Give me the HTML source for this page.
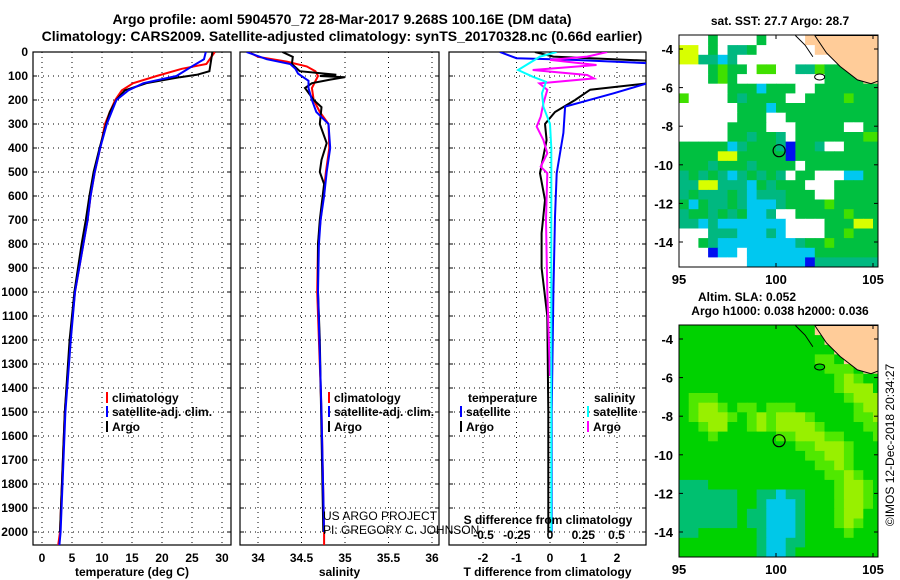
<!DOCTYPE html>
<html><head><meta charset="utf-8"><style>
body{margin:0;background:#fff}
svg{display:block;font-family:"Liberation Sans",sans-serif}
.t{font-weight:bold;font-size:12px}
</style></head><body>
<svg id="c" width="900" height="580" viewBox="0 0 900 580">
<text x="342" y="24" text-anchor="middle" font-size="14" font-weight="bold">Argo profile: aoml 5904570_72 28-Mar-2017 9.268S 100.16E (DM data)</text>
<text x="342" y="41" text-anchor="middle" font-size="14" font-weight="bold">Climatology: CARS2009. Satellite-adjusted climatology: synTS_20170328.nc (0.66d earlier)</text>
</svg>
<script>
// ---- data ----
const tDepthClim=[0,50,70,100,130,160,200,250,300,400,500,600,700,800,1000,1200,1500,2000,2055];
const tClim=[28.8,27.4,23.3,19.1,15.2,13.3,12.2,11.3,10.5,9.7,8.8,8.1,7.6,6.9,5.5,4.7,3.8,3.0,2.7];
const tDepthSat=[0,30,60,100,130,160,200,250,300,400,500,600,700,800,1000,1200,1500,2000,2055];
const tSat=[27.3,27.0,25.0,22.4,16.9,14.4,12.4,11.6,10.8,9.7,8.8,8.1,7.6,6.9,5.5,4.8,3.9,3.1,2.9];
const tDepthArgo=[0,80,95,105,130,160,200,250,300,400,500,600,700,800,1000,1200,1500,2000];
const tArgo=[28.4,27.9,25.8,23.0,17.4,13.8,12.4,11.3,10.7,9.6,8.6,7.9,7.3,6.6,5.4,4.6,3.8,3.0];
const sDepthClim=[0,20,40,60,80,100,150,200,250,300,400,500,600,700,800,1000,1200,1500,2000,2055];
const sClim=[33.89,34.0,34.33,34.56,34.66,34.69,34.62,34.64,34.71,34.81,34.82,34.78,34.75,34.72,34.69,34.68,34.70,34.73,34.76,34.76];
const sDepthSat=[0,30,50,70,90,120,150,200,250,300,400,500,600,700,800,1000,1500,2000];
const sSat=[33.87,34.1,34.37,34.43,34.46,34.58,34.58,34.62,34.67,34.81,34.83,34.79,34.76,34.72,34.70,34.69,34.73,34.76];
const sDepthArgo=[0,20,50,80,95,100,105,115,130,150,200,230,300,380,450,500,550,700,800,1000,1200,2000];
const sArgo=[34.28,34.4,34.39,34.48,34.9,34.71,35.0,34.83,34.62,34.54,34.64,34.73,34.71,34.79,34.73,34.71,34.76,34.71,34.69,34.69,34.71,34.75];
const dDepthTA=[0,19,40,89,131,157,200,250,300,367,505,617,755,900,1100,1500,2000];
const dTArgo=[-0.45,0.1,3.5,3.5,2.9,1.2,0.75,0.15,-0.15,-0.1,-0.3,-0.15,-0.25,-0.25,-0.08,-0.05,-0.05];
const dDepthTS=[0,26,33,50,100,131,172,228,337,505,686,1000,1500,2000];
const dTSat=[-1.5,-1.0,0.7,3.5,3.5,2.9,1.9,0.45,0.4,0.2,0.15,0.1,0.05,0.05];
const dDepthSS=[0,19,75,103,124,172,228,300,400,1000,2000];
const dSSat=[0.05,-0.075,-0.24,-0.13,-0.03,-0.06,-0.05,0,0.01,0.01,0.01];
const dDepthSA=[0,19,33,54,75,96,110,131,158,214,269,311,367,422,478,505,700,1000,1350];
const dSArgo=[0.43,0.28,0,0.35,-0.13,0.28,0.33,-0.08,-0.02,-0.05,-0.07,-0.1,-0.05,-0.02,-0.07,-0.02,-0.03,-0.02,0];
const depthTicks=[0,100,200,300,400,500,600,700,800,900,1000,1100,1200,1300,1400,1500,1600,1700,1800,1900,2000];
const tTicks=[0,5,10,15,20,25,30];
const sTicks=[34,34.5,35,35.5,36];
const dTTicks=[-2,-1,0,1,2];
const dSTicks=[-0.5,-0.25,0,0.25,0.5];
const sstRows=[
"wwwgwwwwgwwwwoooooooo","yywgwttgwwwwwwooooooo","yyttctwwwwwwwwwwwoooo","wwwglggwllwwttlggggoo",
"wwwglgwwwwwwwwwggggoo","wwwwwgggcgggwwggggggg","lwwwwgtggggwwgggglggg","wwwwwwgggcggggggggggg",
"wwwwwwgggwwgggggggggg","wwwwwggggwwwgggggwwgg","wwwwwggtggtwgggggggll","gggggctgggtbggtwwgggg",
"ggggyygggggbggggggggg","gggtgggtggggwgggggggg","tgtgtctgtgtwggwwwccgg","ttyytttcgtgggwwwggggg",
"tgtttgtctttgggwwggggg","gcgttgtccctgggglggggg","tggtgtgcctwwggggglggg","ttctcccccccwwwwgggyyg",
"wwwtttccctcwwwwgglggg","wwgtcccccccctgglggggg","wwwbccwcccccccggggggg","wwwwwwwccccccbttttttt"];
const slaRows=[
"GGGGGGGGGGGGGGooooooo","GGGGGGGGGGGGGGGoooooo","GGGGGGGGGGGGGGGGooooo","GGGGGGGGGGGGGGMMGoooo",
"GGGGGGGGGGGGGGGMMMGoo","GGGGGGGGGGGGGGGGMLMGG","GGGGGGGGGGGGGGGGMLLLG","GMMMGGGGGGGGGGGGGMLLL",
"GMLLMGMMGMMMGGGGGGMLL","GMLLLMGMLMLLLMGGGGMML","GGMLLGGMLMLLLLMGGGGMM","GGGMGGGGGGMMLLLMMGGGM",
"GGGGGGGGGGGGMMLLLMGGG","GGGGGGGGGGGGGMMLLMGGG","GGGGGGGGGGGGGGMMLMGGG","GGGGGGGGGGGGGGGMMLMGG",
"TTTGGGGGGGGGGGGGMLLMG","TTTTTTGGTTCTTGGGMLLMG","TTTTTTGGTCCCTGGGMLLMG","TTTTTTGTTCCCTGGGMLLGG",
"TTTTTTGTTCCCTGGGMLMGG","TTGGGGGGTCCCTGGGGMGGG","GGGGGGGGTCCTTGGGGGGGG","GGGGGGGGTCCTGGGGGGGGG"];
const mapLonTicks=[95,100,105];
const mapLatTicks=[-4,-6,-8,-10,-12,-14];
const floatLon=100.16, floatLat=-9.268;

// ---- drawing ----
const svg=document.getElementById('c');
const NS='http://www.w3.org/2000/svg';
function mk(tag,attrs,parent){const e=document.createElementNS(NS,tag);for(const k in attrs)e.setAttribute(k,attrs[k]);(parent||svg).appendChild(e);return e;}
function txt(x,y,s,anchor,cls,parent){const e=mk('text',{x:x,y:y,'text-anchor':anchor||'middle','class':cls||'t'},parent);e.textContent=s;return e;}
const Y0=52,YS=0.24;
const yD=d=>Y0+d*YS;
const panels=[
 {x0:33,x1:231,fx:v=>42+v*6,ticks:tTicks,label:'temperature (deg C)',name:'temperature'},
 {x0:240,x1:439,fx:v=>258+(v-34)*87,ticks:sTicks,label:'salinity',name:'salinity'},
 {x0:449,x1:646,fx:v=>550+v*33.5,ticks:dTTicks,label:'T difference from climatology',name:'difference'}];
const fS=v=>550+v*133;
const PB=545;
panels.forEach((p,i)=>{
  const g=mk('g',{});
  
  
  const cp=mk('clipPath',{id:'cp'+i},g);mk('rect',{x:p.x0,y:Y0,width:p.x1-p.x0,height:PB-Y0},cp);
  depthTicks.forEach(d=>{mk('line',{x1:p.x0,x2:p.x1,y1:yD(d),y2:yD(d),stroke:'#000','stroke-dasharray':'1,4','stroke-width':1},g);
    mk('line',{x1:p.x0,x2:p.x0+4,y1:yD(d),y2:yD(d),stroke:'#000'},g);mk('line',{x1:p.x1-4,x2:p.x1,y1:yD(d),y2:yD(d),stroke:'#000'},g);
    if(i==0){const l=txt(28,yD(d)+4,String(d),'end');}});
  p.ticks.forEach(v=>{const x=p.fx(v);mk('line',{x1:x,x2:x,y1:Y0,y2:PB,stroke:'#000','stroke-dasharray':'1,4'},g);
    const l=txt(x,562,String(v));});
  mk('rect',{x:p.x0,y:Y0,width:p.x1-p.x0,height:PB-Y0,fill:'none',stroke:'#000','stroke-width':1.2},g);
  const xl=txt((p.x0+p.x1)/2,576,p.label);
});
function line(ds,vs,fx,col,w,name,ci){const pts=ds.map((d,k)=>fx(vs[k]).toFixed(1)+','+yD(d).toFixed(1)).join(' ');
  const e=mk('polyline',{points:pts,fill:'none',stroke:col,'stroke-width':w,'clip-path':'url(#cp'+ci+')'});
  }
const P=panels;
line(tDepthClim,tClim,P[0].fx,'#f00',2,'temp-climatology-line',0);
line(tDepthArgo,tArgo,P[0].fx,'#000',2,'temp-argo-line',0);
line(tDepthSat,tSat,P[0].fx,'#00f',2,'temp-satellite-line',0);
line(sDepthClim,sClim,P[1].fx,'#f00',2,'sal-climatology-line',1);
line(sDepthArgo,sArgo,P[1].fx,'#000',2,'sal-argo-line',1);
line(sDepthSat,sSat,P[1].fx,'#00f',2,'sal-satellite-line',1);
line(dDepthTA,dTArgo,P[2].fx,'#000',2,'tdiff-argo-line',2);
line(dDepthTS,dTSat,P[2].fx,'#00f',2,'tdiff-satellite-line',2);
line(dDepthSA,dSArgo,fS,'#f0f',2,'sdiff-argo-line',2);
line(dDepthSS,dSSat,fS,'#0ff',2,'sdiff-satellite-line',2);
dSTicks.forEach(v=>{const l=txt(fS(v),539,String(v));});
const sdl=txt(548,524,'S difference from climatology');
function leg(x,y,col,label,name){const g=mk('g',{});
  mk('rect',{x:x,y:y-10,width:2,height:11,fill:col},g);txt(x+6,y,label,'start','t',g);}
leg(106,402,'#f00','climatology','legend-temp-climatology');
leg(106,416,'#00f','satellite-adj. clim.','legend-temp-satellite');
leg(106,431,'#000','Argo','legend-temp-argo');
leg(328,402,'#f00','climatology','legend-sal-climatology');
leg(328,416,'#00f','satellite-adj. clim.','legend-sal-satellite');
leg(328,431,'#000','Argo','legend-sal-argo');
const lt=txt(468,402,'temperature','start');
const ls=txt(594,402,'salinity','start');
leg(460,416,'#00f','satellite','legend-tdiff-satellite');
leg(460,431,'#000','Argo','legend-tdiff-argo');
leg(587,416,'#0ff','satellite','legend-sdiff-satellite');
leg(587,431,'#f0f','Argo','legend-sdiff-argo');
const pr1=mk('text',{x:323,y:520,'font-size':12});pr1.textContent='US ARGO PROJECT';
const pr2=mk('text',{x:323,y:534,'font-size':12});pr2.textContent='PI: GREGORY C. JOHNSON';

// ---- maps ----
const cols={w:'#fff',g:'#00c040',t:'#00b880',l:'#40e000',c:'#00c8f0',b:'#0010f0',y:'#d8ff00',o:'#ffcc99',
 G:'#00d200',M:'#50e800',L:'#98f000',T:'#00c070',C:'#00c8e8'};
function drawMap(top,rows,name,titles){
  const x0=679,x1=878,y0=top,y1=top+232;
  const fx=lon=>679+(lon-95)*19.4, fy=lat=>top+14+(-4-lat)*19.3;
  const g=mk('g',{});
  const cid='m'+top;const cp=mk('clipPath',{id:cid},g);mk('rect',{x:x0,y:y0,width:x1-x0,height:y1-y0},cp);
  const cg=mk('g',{'clip-path':'url(#'+cid+')'},g);
  rows.forEach((r,ri)=>{for(let ci=0;ci<21;ci++){const ch=r[ci]||r[r.length-1];
    const lon=95+ci*0.5, lat=-3.3-ri*0.5;
    const e=mk('rect',{x:fx(lon).toFixed(1),y:fy(lat).toFixed(1),width:10.2,height:10.1,fill:cols[ch]},cg);
    
    }});
  mk('polygon',{points:[[102,-3.3],[102.6,-4.2],[103.3,-4.9],[104.2,-5.6],[104.9,-5.8],[105.4,-5.6],[105.4,-3.3]].map(p=>fx(p[0])+','+fy(p[1])).join(' '),fill:'#ffcc99',stroke:'#000','stroke-width':1},cg);
  mk('polyline',{points:[[101,-3.3],[101.5,-3.8],[101.9,-4.4]].map(p=>fx(p[0])+','+fy(p[1])).join(' '),fill:'none',stroke:'#000'},cg);
  mk('ellipse',{cx:fx(102.25),cy:fy(-5.45),rx:5,ry:3,fill:'none',stroke:'#000'},cg);
  const ring=mk('circle',{cx:fx(floatLon),cy:fy(floatLat),r:6,fill:'none',stroke:'#000','stroke-width':1.2},g);
  
  mk('rect',{x:x0,y:y0,width:x1-x0,height:y1-y0,fill:'none',stroke:'#000'},g);
  mapLonTicks.forEach(v=>{const x=fx(v);mk('line',{x1:x,x2:x,y1:y0,y2:y0+4,stroke:'#000'},g);mk('line',{x1:x,x2:x,y1:y1,y2:y1-4,stroke:'#000'},g);
    const l=txt(x,y1+17,String(v),'middle','t',g);l.style.fontSize='13px';});
  mapLatTicks.forEach(v=>{const y=fy(v);mk('line',{x1:x0,x2:x0+4,y1:y,y2:y,stroke:'#000'},g);mk('line',{x1:x1,x2:x1-4,y1:y,y2:y,stroke:'#000'},g);
    const l=txt(673,y+5,String(v),'end','t',g);l.style.fontSize='13px';});
  titles.forEach(s=>{const l=txt(s[1],s[2],s[0],'middle','t',g);});
}
drawMap(35,sstRows,'sst-map',[['sat. SST: 27.7 Argo: 28.7',780,25]]);
drawMap(325,slaRows,'sla-map',[['Altim. SLA: 0.052',747,301],['Argo h1000: 0.038 h2000: 0.036',780,315]]);
const cr=mk('text',{x:0,y:0,'font-size':12,'text-anchor':'middle',transform:'translate(894,445) rotate(-90)'});
cr.textContent='©IMOS 12-Dec-2018 20:34:27';


</script>
</body></html>
